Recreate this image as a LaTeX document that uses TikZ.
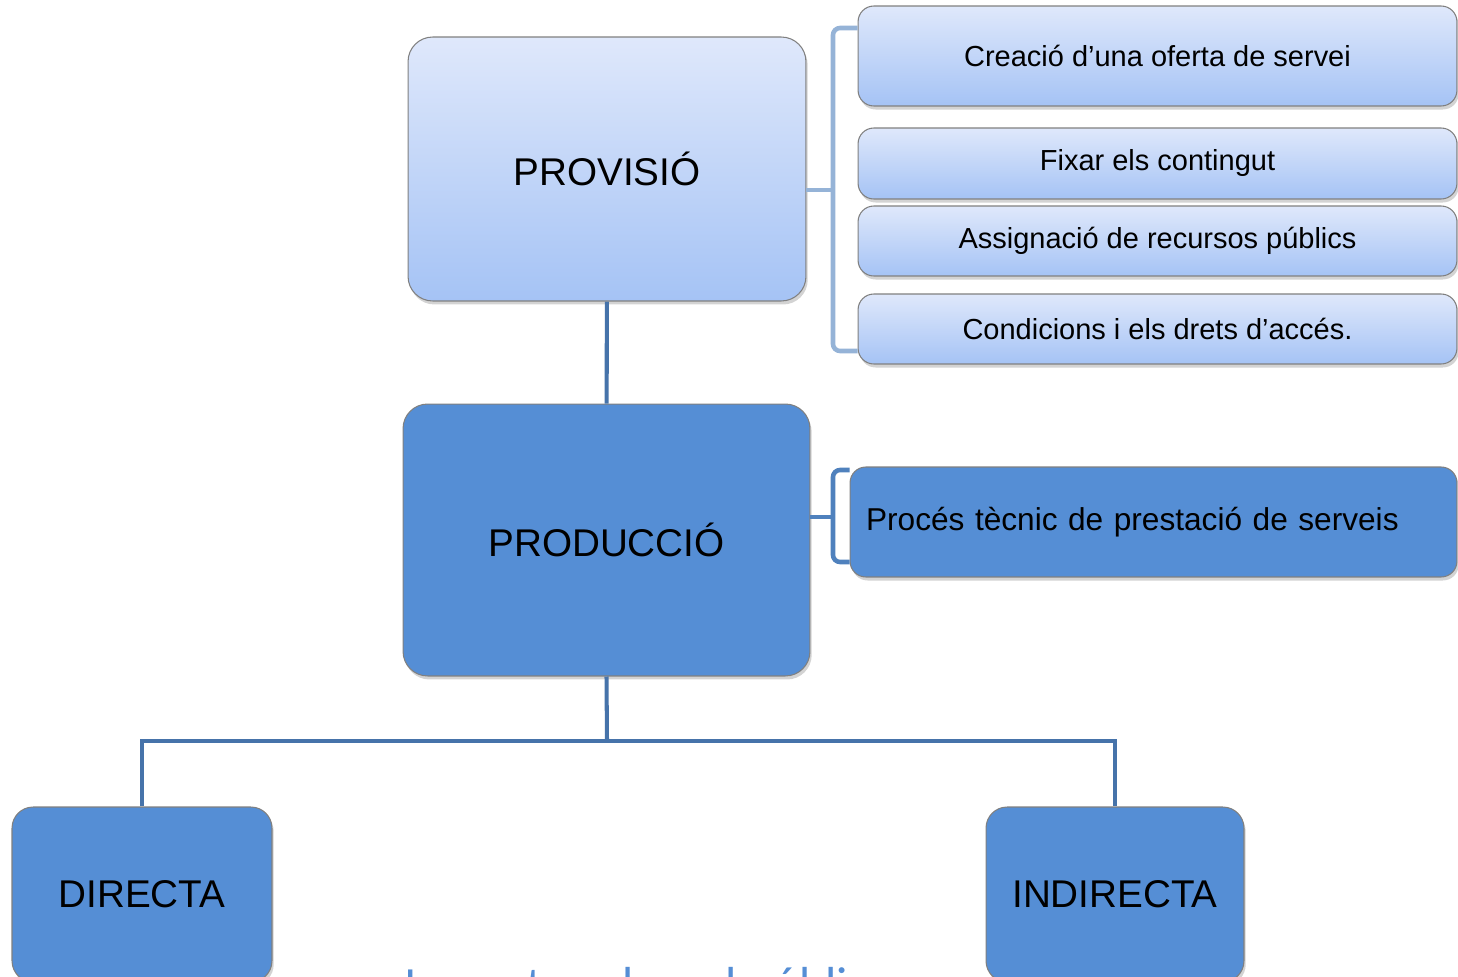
\documentclass[tikz,border=0pt]{standalone}
\usepackage{fontspec}
\setmainfont{Liberation Sans}
\newfontfamily\titlefont{Carlito}
\usetikzlibrary{shadows}
\definecolor{lighttop}{HTML}{DFE8FB}
\definecolor{lightbot}{HTML}{A5C3F5}
\definecolor{prodblue}{HTML}{558ED5}
\definecolor{linkblue}{HTML}{4673AA}
\definecolor{bracelight}{HTML}{95B3D7}
\definecolor{bracedark}{HTML}{4F81BD}
\tikzset{boxbase/.style={draw=black!50, line width=0.6pt, inner sep=0pt, align=center,
    drop shadow={opacity=0.35, shadow xshift=1pt, shadow yshift=-2pt}},
    lightbox/.style={boxbase, top color=lighttop, bottom color=lightbot},
    darkbox/.style={boxbase, fill=prodblue},
    link/.style={draw=linkblue, line width=2.3pt},
    bracket/.style={line width=2.6pt, rounded corners=4pt}}

\begin{document}
\begin{tikzpicture}[x=0.02cm, y=-0.02cm]
        \def \bigsize {\fontsize{22}{26}\selectfont}
        \def \smallsize {\fontsize{16.5}{20}\selectfont}
        \useasboundingbox (0,0) rectangle (1458,977);

        % main column
        \node[lightbox, rounded corners=14pt, minimum width=7.96cm, minimum height=5.28cm, font=\bigsize] (prov) at (607,169) {PROVISIÓ};
        \node[darkbox, rounded corners=14pt, minimum width=8.14cm, minimum height=5.44cm, font=\bigsize] (prod) at (606.5,540) {PRODUCCIÓ};
        \node[darkbox, rounded corners=12pt, minimum width=5.2cm, minimum height=3.5cm, font=\bigsize] (directa) at (142,894.5) {DIRECTA};
        \node[darkbox, rounded corners=12pt, minimum width=5.16cm, minimum height=3.5cm, font=\bigsize] (indirecta) at (1115,894.5) {INDIRECTA};

        % tasks of the provision
        \foreach \y/\h/\txt [count=\i] in {56/2/{Creació d’una oferta de servei},
            163.5/1.42/{Fixar els contingut},
            241/1.4/{Assignació de recursos públics},
            329/1.4/{Condicions i els drets d’accés.}}
        {
            \node[lightbox, rounded corners=9pt, minimum width=11.98cm, minimum height=\h cm, font=\smallsize] (task\i) at (1157.5,\y) {\txt};
        }
        \node[darkbox, rounded corners=9pt, text width=11.5cm, inner xsep=0.32cm, minimum height=2.2cm, align=left, font=\fontsize{18}{22}\selectfont] (proces) at (1153.5,522) {Procés tècnic de prestació de serveis};

        % tree
        \coordinate (split) at (607,741);
        \draw[link] (prov) -- (prod);
        \draw[link] (prod.south) -- (split);
        \draw[link] (directa.north) |- (split) -| (indirecta.north);

        % brackets
        \draw[bracket, draw=bracelight] (task1.west |- 0,28) -- (833,28) -- (833,351) -- (task4.west |- 0,351);
        \draw[bracket, draw=bracelight] (prov.east |- 0,190) -- (833,190);
        \draw[bracket, draw=bracedark] (proces.west |- 0,470) -- (833,470) -- (833,562) -- (proces.west |- 0,562);
        \draw[bracket, draw=bracedark] (prod.east |- 0,517) -- (833,517);

        % title, cut by the page
        \node[font=\titlefont\fontsize{28}{32}\selectfont, text=prodblue, anchor=base west, inner sep=0pt] (title) at (404,1001) {Impacte sobre el públic};
    \end{tikzpicture}
\end{document}
